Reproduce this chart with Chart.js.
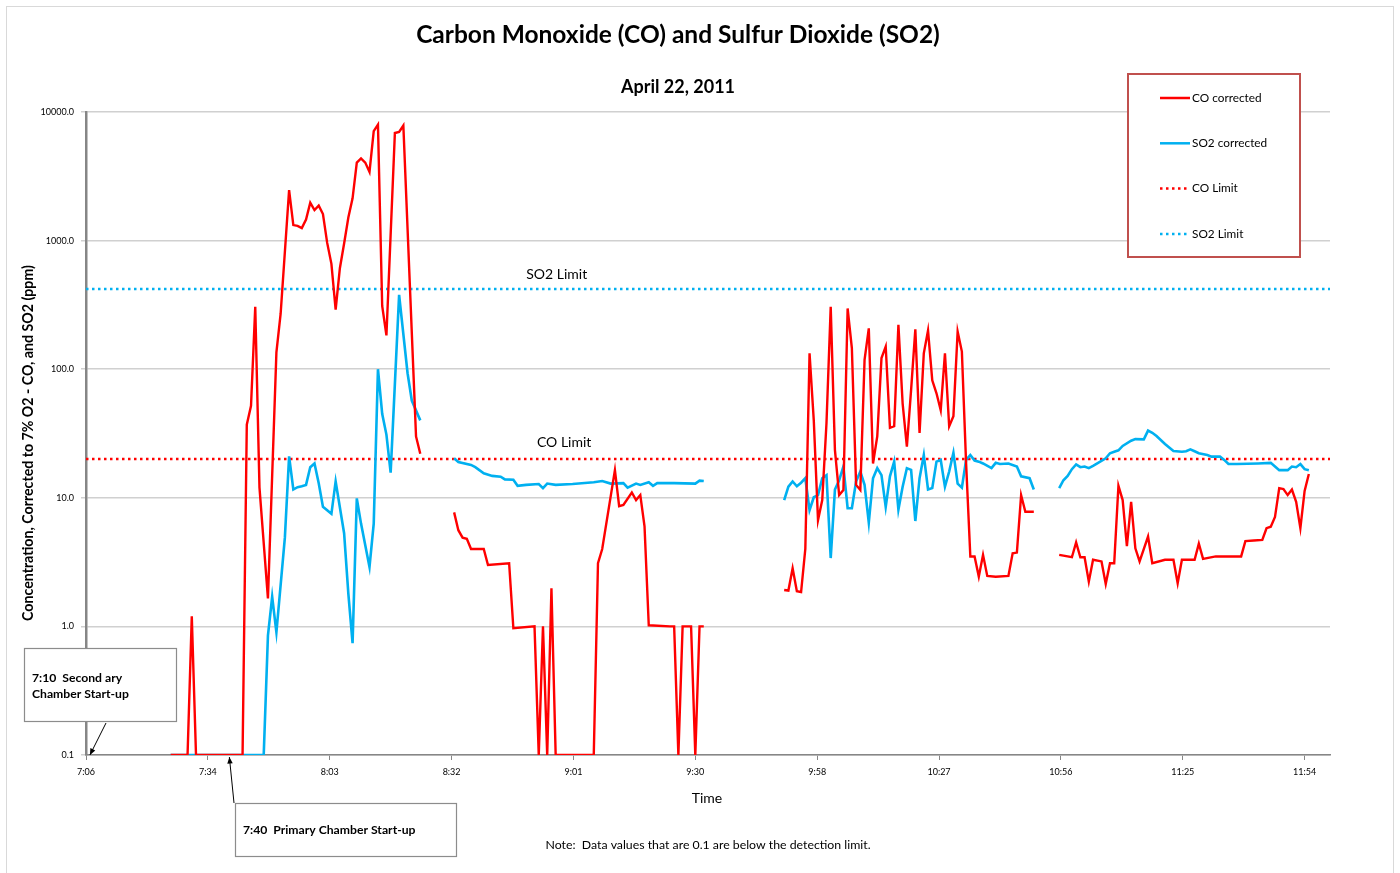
<!DOCTYPE html>
<html>
<head>
<meta charset="utf-8">
<script src="https://cdn.jsdelivr.net/npm/chart.js@4.4.1/dist/chart.umd.min.js"></script>
<style>
  html, body { margin: 0; padding: 0; background: #fff; }
  #wrap { width: 1400px; height: 873px; }
</style>
</head>
<body>
<div id="wrap"><canvas id="chart" width="1400" height="873"></canvas></div>
<script>
// readings, [clock time, ppm], one array per logging run
const coRun1 = [['7:26',0.1],['7:30',0.1],['7:31',1.2],['7:32',0.1],['7:43',0.1],['7:44',37],['7:45',52],['7:46',306],['7:47',12],['7:49',1.65],['7:51',135],['7:52',270],['7:54',2470],['7:55',1320],['7:56',1300],['7:57',1250],['7:58',1460],['7:59',1970],['8:00',1730],['8:01',1870],['8:02',1610],['8:03',960],['8:04',660],['8:05',290],['8:06',610],['8:07',950],['8:08',1510],['8:09',2130],['8:10',4040],['8:11',4360],['8:12',4040],['8:13',3420],['8:14',7110],['8:15',7980],['8:16',310],['8:17',183],['8:19',6860],['8:20',7000],['8:21',7850],['8:24',30],['8:25',22]];
const coRun2 = [['8:33',7.7],['8:34',5.6],['8:35',4.9],['8:36',4.8],['8:37',4.0],['8:40',4.0],['8:41',3.0],['8:46',3.1],['8:47',0.97],['8:52',1.0],['8:53',0.1],['8:54',1.0],['8:55',0.1],['8:56',1.98],['8:57',0.1],['9:06',0.1],['9:07',3.1],['9:08',4.0],['9:11',16.4],['9:12',8.6],['9:13',8.8],['9:15',11],['9:16',9.6],['9:17',10.5],['9:18',6.0],['9:19',1.02],['9:24',1.0],['9:25',1.0],['9:26',0.1],['9:27',1.0],['9:29',1.0],['9:30',0.1],['9:31',1.0],['9:32',1.0]];
const coRun3 = [['9:51',1.92],['9:52',1.9],['9:53',2.83],['9:54',1.88],['9:55',1.85],['9:56',4.0],['9:57',133],['9:58',40],['9:59',6.7],['10:00',9.6],['10:01',38],['10:02',306],['10:03',23.5],['10:04',10.5],['10:05',11.5],['10:06',297],['10:07',146],['10:08',12.6],['10:09',11.5],['10:10',118],['10:11',208],['10:12',18.5],['10:13',30],['10:14',122],['10:15',150],['10:16',35],['10:17',36],['10:18',221],['10:19',54],['10:20',25],['10:21',69],['10:22',204],['10:23',32],['10:24',133],['10:25',200],['10:26',82],['10:27',65],['10:28',48],['10:29',133],['10:30',36],['10:31',43],['10:32',196],['10:33',137],['10:34',18.5],['10:35',3.5],['10:36',3.5],['10:37',2.44],['10:38',3.6],['10:39',2.47],['10:41',2.43],['10:44',2.47],['10:45',3.7],['10:46',3.75],['10:47',10.5],['10:48',7.8],['10:50',7.8]];
const coRun4 = [['10:56',3.6],['10:57',3.55],['10:59',3.45],['11:00',4.5],['11:01',3.45],['11:02',3.45],['11:03',2.23],['11:04',3.3],['11:06',3.2],['11:07',2.14],['11:08',3.1],['11:09',3.1],['11:10',12.4],['11:11',9.6],['11:12',4.2],['11:13',9.3],['11:14',4.05],['11:15',3.2],['11:17',5.0],['11:18',3.1],['11:21',3.3],['11:23',3.3],['11:24',2.17],['11:25',3.3],['11:28',3.3],['11:29',4.4],['11:30',3.35],['11:33',3.5],['11:39',3.5],['11:40',4.6],['11:42',4.65],['11:44',4.7],['11:45',5.8],['11:46',5.96],['11:47',7.1],['11:48',11.9],['11:49',11.7],['11:50',10.5],['11:51',11.6],['11:52',9.3],['11:53',5.8],['11:54',11.3],['11:55',15.3]];

const so2Run1 = [['7:26',0.1],['7:48',0.1],['7:49',0.85],['7:50',1.7],['7:51',0.9],['7:53',4.9],['7:54',21],['7:55',11.6],['7:56',12.1],['7:57',12.3],['7:58',12.6],['7:59',17.3],['8:00',18.5],['8:01',13],['8:02',8.5],['8:04',7.5],['8:05',13.4],['8:07',5.3],['8:08',1.8],['8:09',0.74],['8:10',9.9],['8:11',6.3],['8:13',2.9],['8:14',6.3],['8:15',100],['8:16',45],['8:17',31],['8:18',15.7],['8:20',378],['8:22',93],['8:23',57],['8:25',40]];
const so2Run2 = [['8:33',20.3],['8:34',19],['8:37',18],['8:38',17.3],['8:40',15.5],['8:42',14.8],['8:44',14.6],['8:45',13.9],['8:47',13.8],['8:48',12.4],['8:50',12.6],['8:53',12.8],['8:54',11.9],['8:55',12.9],['8:57',12.6],['9:01',12.8],['9:06',13.2],['9:08',13.5],['9:10',12.9],['9:13',13.0],['9:14',12.0],['9:16',12.9],['9:17',12.6],['9:19',13.2],['9:20',12.4],['9:21',13.0],['9:25',13.0],['9:30',12.9],['9:31',13.6],['9:32',13.5]];
const so2Run3 = [['9:51',9.6],['9:52',12.2],['9:53',13.4],['9:54',12.3],['9:55',13.1],['9:56',14.2],['9:57',8.0],['9:58',10.1],['9:59',10.5],['10:00',14.2],['10:01',15],['10:02',3.4],['10:03',11.6],['10:04',13.7],['10:05',17.5],['10:06',8.3],['10:07',8.3],['10:08',13.4],['10:09',16],['10:10',12.6],['10:11',6.4],['10:12',14.2],['10:13',17],['10:14',15],['10:15',8.5],['10:16',14.7],['10:17',19.1],['10:18',8.1],['10:19',12.2],['10:20',17],['10:21',16.5],['10:22',6.6],['10:23',14.2],['10:24',21.5],['10:25',11.6],['10:26',11.9],['10:27',19.1],['10:28',19.7],['10:29',12.2],['10:30',16],['10:31',22.4],['10:32',12.9],['10:33',12.0],['10:34',19.7],['10:35',21.5],['10:36',19.5],['10:37',19.1],['10:38',18.5],['10:40',17],['10:41',18.7],['10:42',18.3],['10:44',18.5],['10:46',17.5],['10:47',14.7],['10:49',14.2],['10:50',11.6]];
const so2Run4 = [['10:56',11.9],['10:57',13.7],['10:58',14.8],['10:59',16.7],['11:00',18.2],['11:01',17.3],['11:02',17.5],['11:03',17.0],['11:04',17.7],['11:05',18.5],['11:07',20.3],['11:08',22.2],['11:09',22.8],['11:10',23.4],['11:11',25.3],['11:13',27.8],['11:14',28.6],['11:16',28.5],['11:17',33.3],['11:18',32],['11:19',30.2],['11:21',26.2],['11:23',23.1],['11:25',22.8],['11:26',23.0],['11:27',23.8],['11:28',23.0],['11:29',22.2],['11:31',21.5],['11:32',20.9],['11:34',20.9],['11:35',19.7],['11:36',18.3],['11:38',18.3],['11:43',18.5],['11:46',18.7],['11:47',17.5],['11:48',16.4],['11:50',16.4],['11:51',17.5],['11:52',17.3],['11:53',18.3],['11:54',16.7],['11:55',16.4]];

const coLimit = 20;
const so2Limit = 420;

const xStart = '7:06';
const xEnd = '12:00';
const xStepMin = 28.8;   // 0.02 day
const xTickLabels = ['7:06','7:34','8:03','8:32','9:01','9:30','9:58','10:27','10:56','11:25','11:54'];
const yTickValues = [0.1, 1, 10, 100, 1000, 10000];

const FONT = 'Lato, "Open Sans", sans-serif';

function toMin(t) {
    const p = t.split(':');
    return Number(p[0]) * 60 + Number(p[1]);
}

function toPoints(runs) {
    const pts = [];
    runs.forEach((run, i) => {
        if (i > 0) pts.push({ x: toMin(run[0][0]) - 1, y: null });
        run.forEach(r => pts.push({ x: toMin(r[0]), y: r[1] }));
    });
    return pts;
}

const xMin = toMin(xStart);
const xMax = toMin(xEnd);

const RED = '#ff0000';
const BLUE = '#00b0f0';

// titles, legend box, annotations
const decorations = {
    id: 'decorations',
    beforeDraw(chart) {
        const ctx = chart.ctx;
        ctx.save();
        ctx.fillStyle = '#fff';
        ctx.fillRect(0, 0, chart.width, chart.height);
        ctx.restore();
    },
    afterDraw(chart) {
        const ctx = chart.ctx;
        const xs = chart.scales.x, ys = chart.scales.y;
        ctx.save();

        // outer frame
        ctx.strokeStyle = '#d9d9d9';
        ctx.lineWidth = 1;
        ctx.strokeRect(6.5, 6.5, 1387, 900);

        ctx.fillStyle = '#000';
        ctx.textAlign = 'center';
        ctx.textBaseline = 'middle';
        ctx.font = 'bold 24.5px ' + FONT;
        ctx.fillText('Carbon Monoxide (CO) and Sulfur Dioxide (SO2)', 678, 35);
        ctx.font = 'bold 18px ' + FONT;
        ctx.fillText('April 22, 2011', 678, 87);

        ctx.font = '14px ' + FONT;
        ctx.fillText('Time', 707, 798);
        ctx.font = '12.3px ' + FONT;
        ctx.fillText('Note:  Data values that are 0.1 are below the detection limit.', 708, 845);

        // limit labels
        ctx.font = '14px ' + FONT;
        ctx.fillText('SO2 Limit', xs.getPixelForValue(toMin('8:57')) + 1, ys.getPixelForValue(so2Limit) - 15);
        ctx.fillText('CO Limit', xs.getPixelForValue(toMin('8:59')), ys.getPixelForValue(coLimit) - 17);

        // y title
        ctx.save();
        ctx.translate(28, 443);
        ctx.rotate(-Math.PI / 2);
        ctx.font = 'bold 14.2px ' + FONT;
        ctx.fillText('Concentration, Corrected to 7% O2 - CO, and SO2 (ppm)', 0, 0);
        ctx.restore();

        // legend
        ctx.fillStyle = '#fff';
        ctx.fillRect(1128, 74, 172, 183);
        ctx.strokeStyle = '#c0504d';
        ctx.lineWidth = 2;
        ctx.strokeRect(1128, 74, 172, 183);
        const items = [
            ['CO corrected', RED, []],
            ['SO2 corrected', BLUE, []],
            ['CO Limit', RED, [2.5, 3.5]],
            ['SO2 Limit', BLUE, [2.5, 3.5]]
        ];
        items.forEach((it, i) => {
            const y = 98 + i * 45.3;
            ctx.beginPath();
            ctx.setLineDash(it[2]);
            ctx.strokeStyle = it[1];
            ctx.lineWidth = 2.5;
            ctx.moveTo(1160, y);
            ctx.lineTo(1190, y);
            ctx.stroke();
            ctx.setLineDash([]);
            ctx.fillStyle = '#000';
            ctx.textAlign = 'left';
            ctx.font = '11.8px ' + FONT;
            ctx.fillText(it[0], 1192, y);
        });

        // start-up notes
        function box(x, y, w, h) {
            ctx.fillStyle = '#fff';
            ctx.fillRect(x, y, w, h);
            ctx.strokeStyle = '#8c8c8c';
            ctx.lineWidth = 1.2;
            ctx.strokeRect(x, y, w, h);
        }
        function arrow(x1, y1, x2, y2) {
            ctx.strokeStyle = '#000';
            ctx.fillStyle = '#000';
            ctx.lineWidth = 1;
            ctx.beginPath();
            ctx.moveTo(x1, y1);
            ctx.lineTo(x2, y2);
            ctx.stroke();
            const a = Math.atan2(y2 - y1, x2 - x1);
            ctx.beginPath();
            ctx.moveTo(x2, y2);
            ctx.lineTo(x2 - 7 * Math.cos(a - 0.4), y2 - 7 * Math.sin(a - 0.4));
            ctx.lineTo(x2 - 7 * Math.cos(a + 0.4), y2 - 7 * Math.sin(a + 0.4));
            ctx.closePath();
            ctx.fill();
        }
        box(24.5, 648.5, 152, 73);
        arrow(106, 723, xs.getPixelForValue(toMin('7:10')) - 13, ys.getPixelForValue(0.1));
        box(235.5, 803.5, 221, 53);
        arrow(234, 803, xs.getPixelForValue(toMin('7:40')) - 0.5, ys.getPixelForValue(0.1) + 2);

        ctx.fillStyle = '#000';
        ctx.textAlign = 'left';
        ctx.font = 'bold 12.2px ' + FONT;
        ctx.fillText('7:10  Second ary', 32, 678);
        ctx.fillText('Chamber Start-up', 32, 694);
        ctx.fillText('7:40  Primary Chamber Start-up', 243, 830);

        ctx.restore();
    }
};

new Chart(document.getElementById('chart').getContext('2d'), {
    type: 'line',
    data: {
        datasets: [
            {
                label: 'CO corrected',
                data: toPoints([coRun1, coRun2, coRun3, coRun4]),
                borderColor: RED,
                borderWidth: 2.4,
                pointRadius: 0,
                tension: 0
            },
            {
                label: 'SO2 corrected',
                data: toPoints([so2Run1, so2Run2, so2Run3, so2Run4]),
                borderColor: BLUE,
                borderWidth: 2.6,
                pointRadius: 0,
                tension: 0
            },
            {
                label: 'CO Limit',
                data: [{ x: xMin, y: coLimit }, { x: xMax, y: coLimit }],
                borderColor: RED,
                borderWidth: 2.5,
                borderDash: [2.5, 3.5],
                pointRadius: 0
            },
            {
                label: 'SO2 Limit',
                data: [{ x: xMin, y: so2Limit }, { x: xMax, y: so2Limit }],
                borderColor: BLUE,
                borderWidth: 2.5,
                borderDash: [2.5, 3.5],
                pointRadius: 0
            }
        ]
    },
    options: {
        responsive: false,
        animation: false,
        events: [],
        layout: { padding: { left: 0, top: 112, right: 70, bottom: 0 } },
        plugins: {
            legend: { display: false },
            tooltip: { enabled: false }
        },
        scales: {
            x: {
                type: 'linear',
                min: xMin,
                max: xMax,
                afterFit: s => { s.height = 118; },
                afterBuildTicks: s => {
                    s.ticks = xTickLabels.map((l, i) => ({ value: xMin + i * xStepMin }));
                },
                ticks: {
                    autoSkip: false,
                    maxRotation: 0,
                    padding: 7,
                    color: '#000',
                    font: { family: FONT, size: 9 },
                    callback: (v, i) => xTickLabels[i]
                },
                grid: { drawOnChartArea: false, drawTicks: true, tickLength: 5, color: '#868686', lineWidth: 1 },
                border: { color: '#868686', width: 1.5 }
            },
            y: {
                type: 'logarithmic',
                min: 0.1,
                max: 10000,
                afterFit: s => { s.width = 86; },
                afterBuildTicks: s => {
                    s.ticks = yTickValues.map(v => ({ value: v }));
                },
                ticks: {
                    padding: 7,
                    color: '#000',
                    font: { family: FONT, size: 9 },
                    callback: v => Number(v).toFixed(1)
                },
                grid: { color: '#d0d0d0', lineWidth: 1.5, tickLength: 5 },
                border: { color: '#868686', width: 2.5 }
            }
        }
    },
    plugins: [decorations]
});
</script>
</body>
</html>
